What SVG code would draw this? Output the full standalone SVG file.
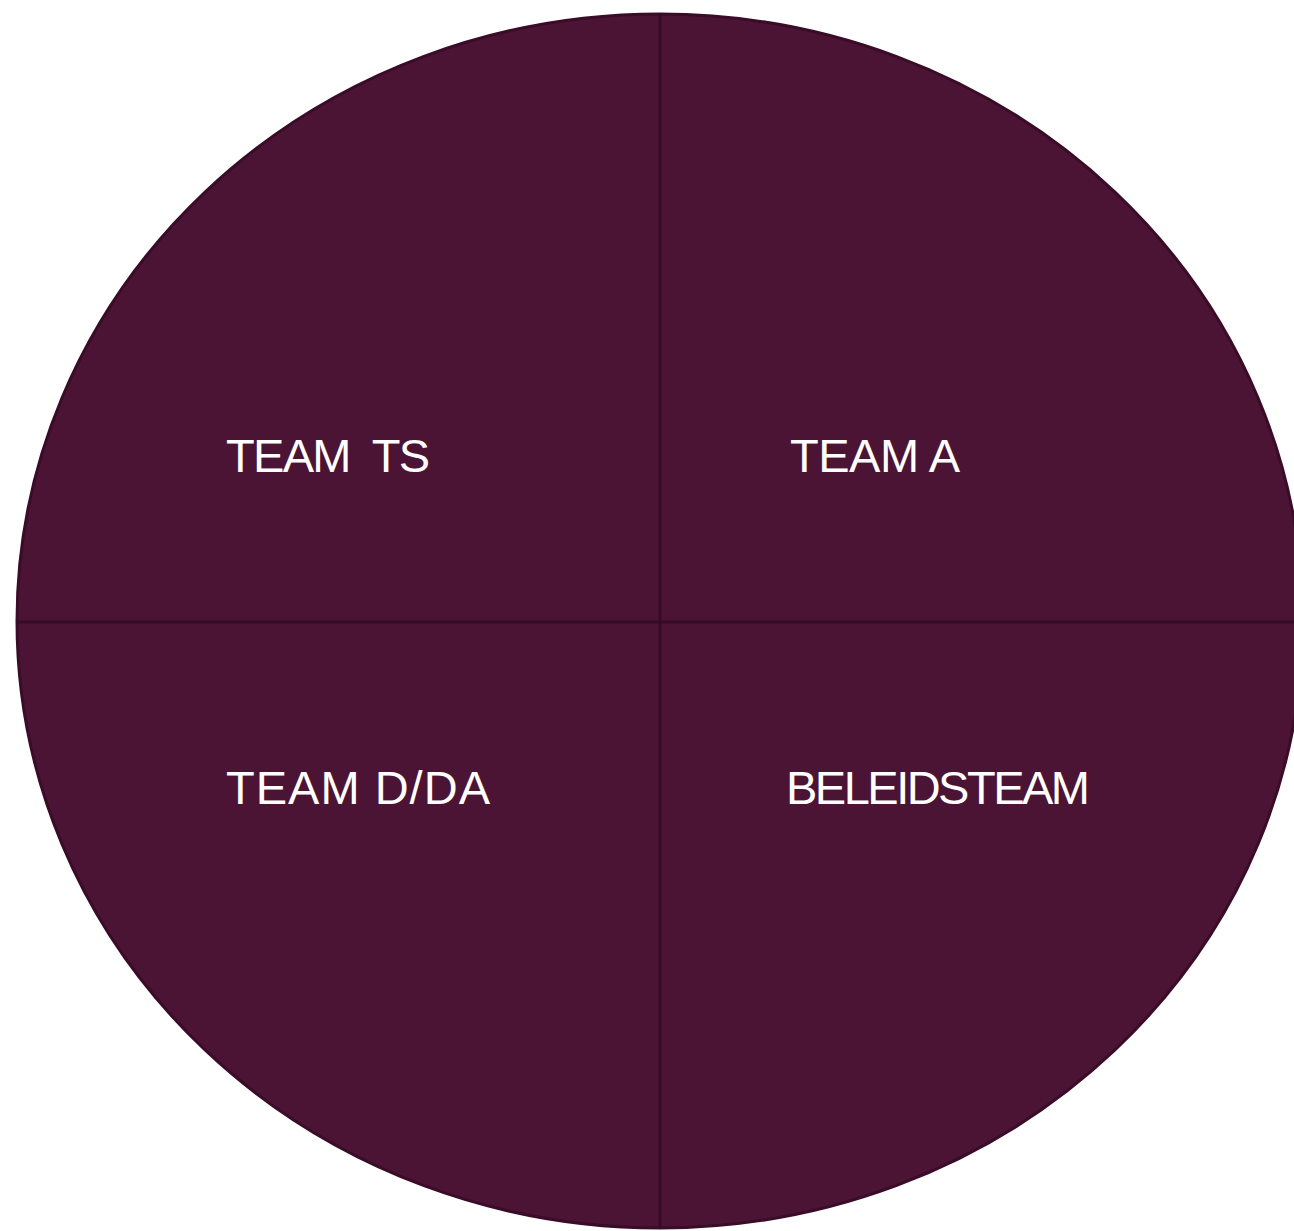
<svg xmlns="http://www.w3.org/2000/svg" width="1294" height="1231" viewBox="0 0 1294 1231">
<style>
.lbl{font-family:"Liberation Sans",Arial,sans-serif;font-size:47px;fill:#ffffff;}
.div{stroke:#360b25;stroke-width:3;fill:none;}
</style>
<rect width="1294" height="1231" fill="#ffffff"/>
<g id="pie">
<ellipse cx="660" cy="621" rx="643" ry="607" fill="#4b1434" stroke="#3a0c28" stroke-width="3"/>
</g>
<g id="connectors">
<line class="div" x1="660" y1="14" x2="660" y2="1229"/>
<line class="div" x1="17" y1="622" x2="1294" y2="622"/>
</g>
<g id="team-ts"><text class="lbl" x="226" y="472" textLength="204" xml:space="preserve">TEAM  TS</text></g>
<g id="team-a"><text class="lbl" x="790" y="472" textLength="170">TEAM A</text></g>
<g id="team-dda"><text class="lbl" x="226" y="804" textLength="264">TEAM D/DA</text></g>
<g id="beleidsteam"><text class="lbl" x="786" y="804" textLength="304">BELEIDSTEAM</text></g>
</svg>
